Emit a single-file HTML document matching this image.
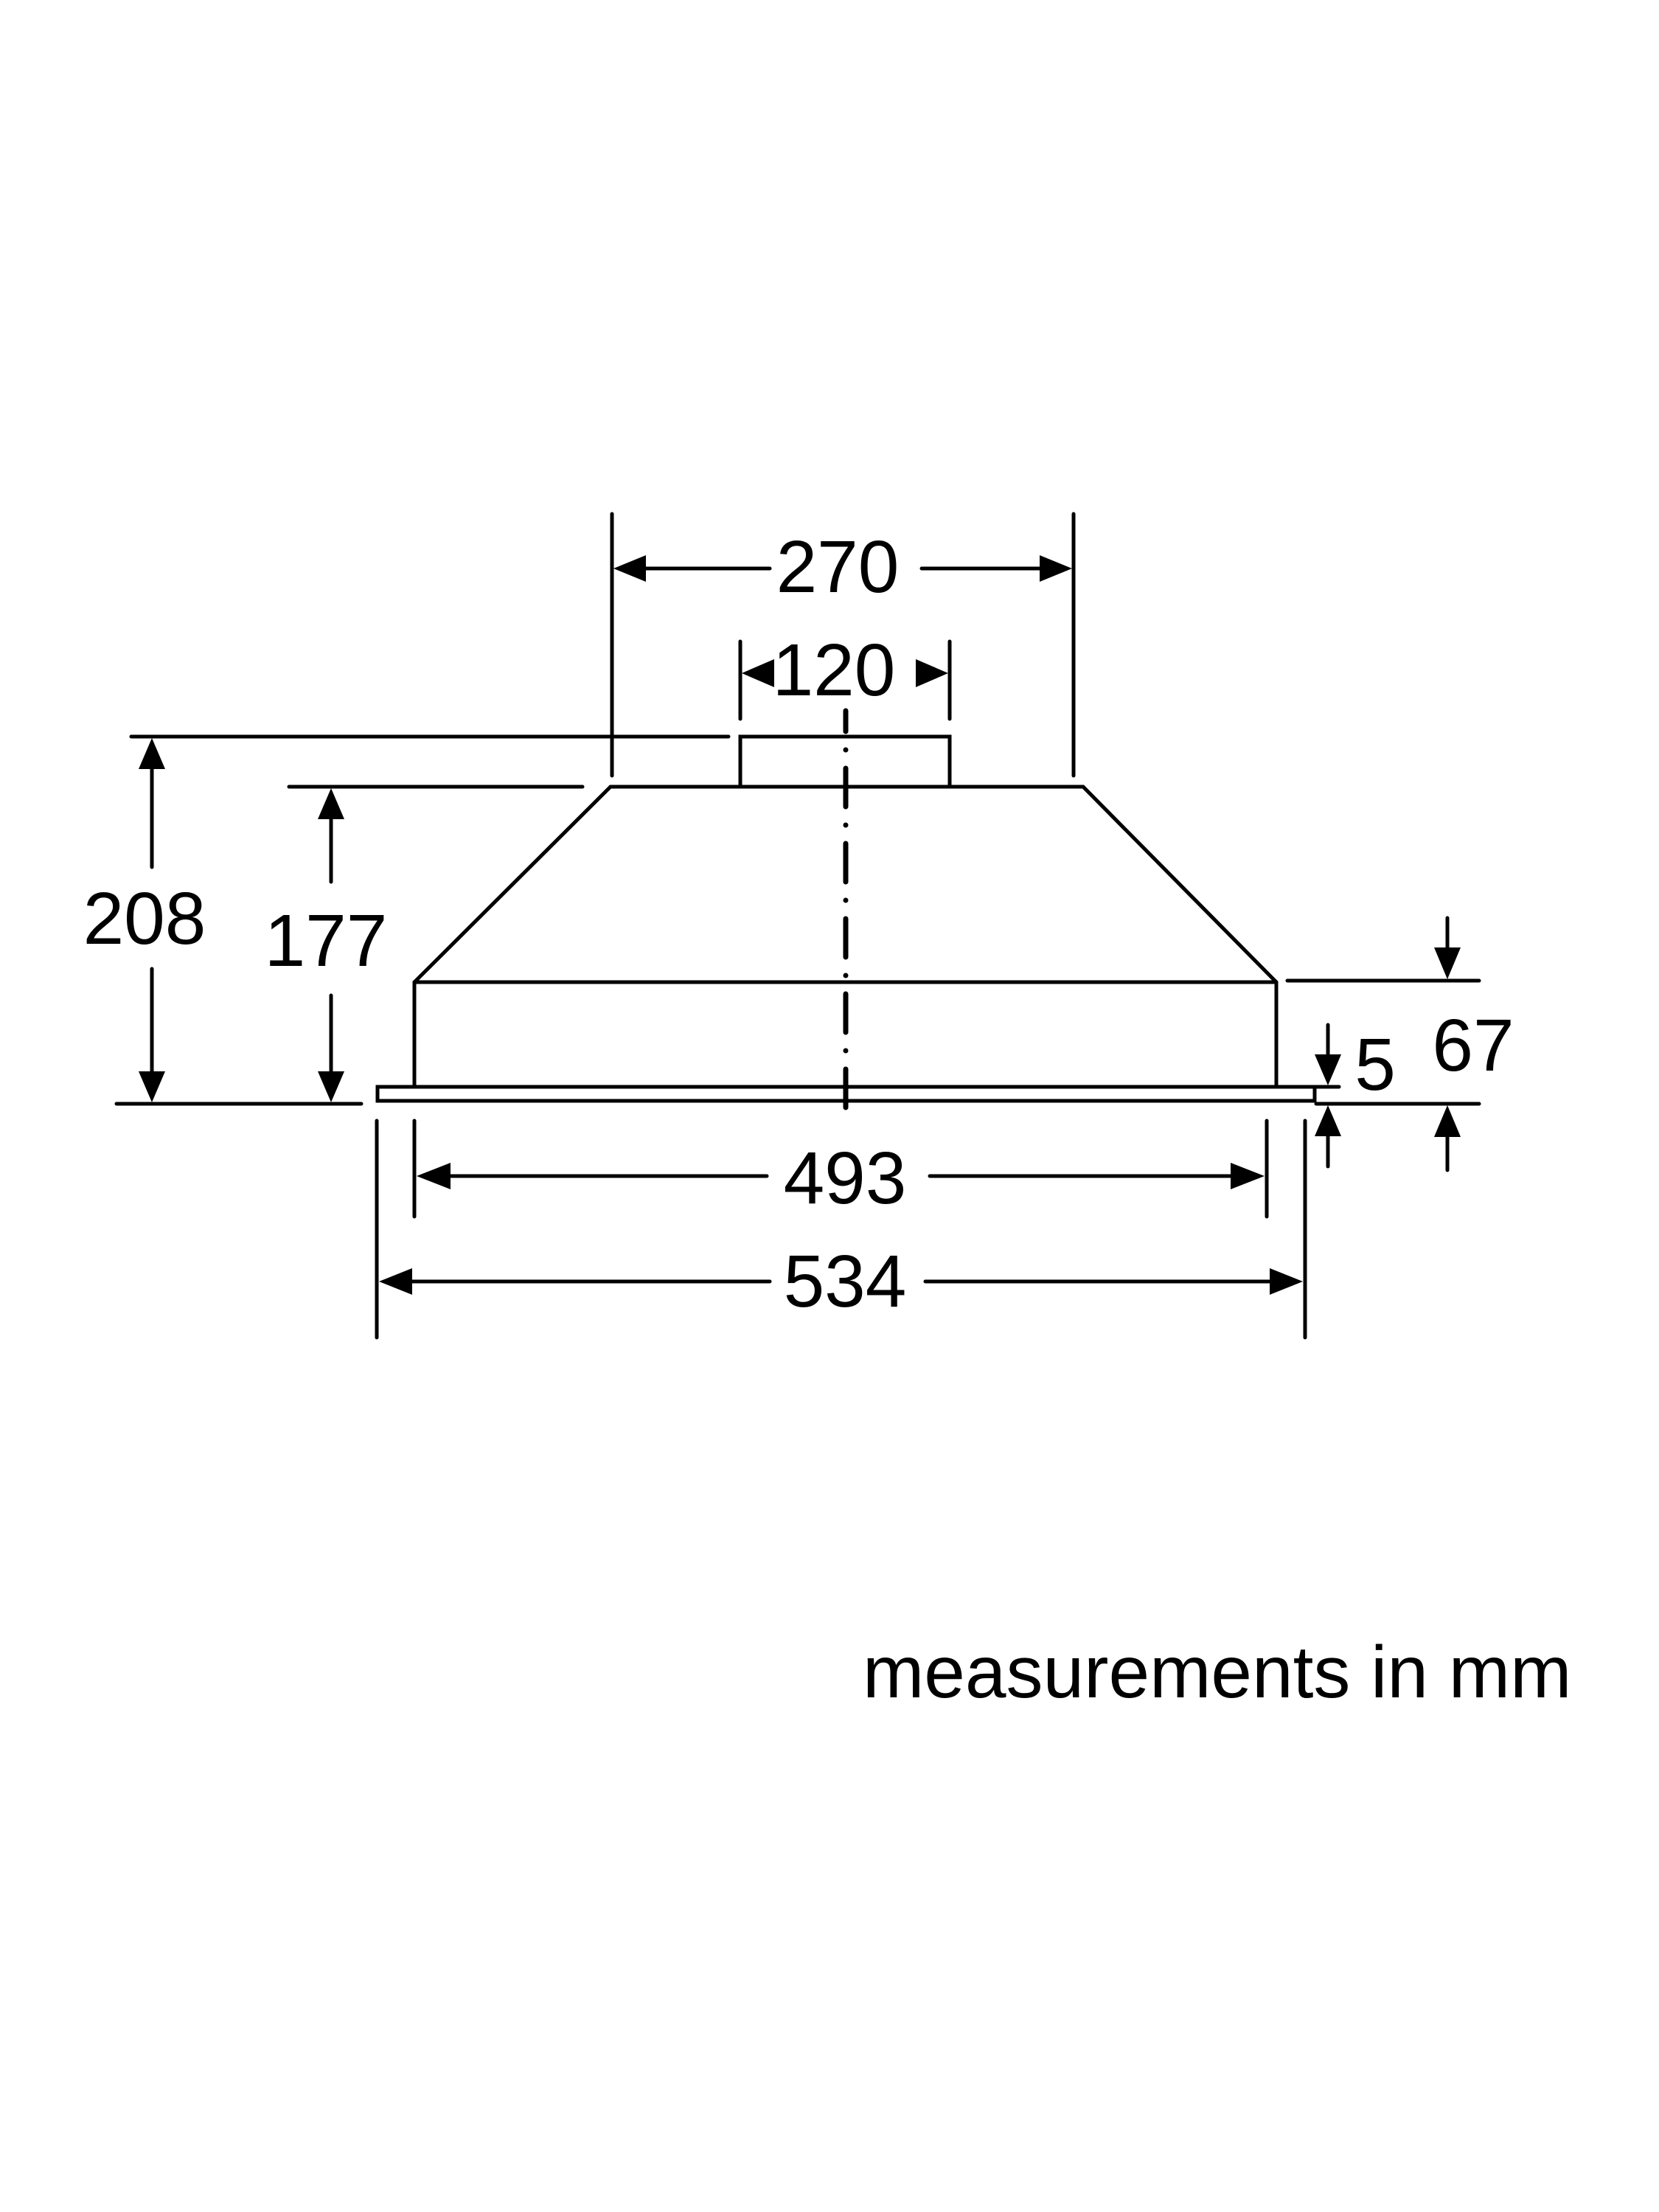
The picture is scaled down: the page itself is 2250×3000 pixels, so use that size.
<!DOCTYPE html>
<html><head><meta charset="utf-8"><style>
html,body{margin:0;padding:0;background:#fff;}
svg{display:block;}
text{font-family:"Liberation Sans",sans-serif;fill:#000;}
</style></head><body>
<svg width="2250" height="3000" viewBox="0 0 2250 3000" xmlns="http://www.w3.org/2000/svg">
<rect width="2250" height="3000" fill="#fff"/>
<g stroke="#000" stroke-width="5" fill="none" stroke-linecap="round">
  <rect x="1004" y="999" width="284" height="68"/>
  <polyline points="828,1067 1469,1067 1731,1332 1731,1474"/>
  <polyline points="828,1067 562,1332 562,1474"/>
  <line x1="562" y1="1332" x2="1731" y2="1332"/>
  <rect x="512" y="1474" width="1271" height="19"/>
  <line x1="830" y1="697" x2="830" y2="1052"/>
  <line x1="1456" y1="697" x2="1456" y2="1052"/>
  <line x1="860" y1="771" x2="1044" y2="771"/>
  <line x1="1250" y1="771" x2="1420" y2="771"/>
  <line x1="1004" y1="870" x2="1004" y2="975"/>
  <line x1="1288" y1="870" x2="1288" y2="975"/>
  <line x1="178" y1="999" x2="988" y2="999"/>
  <line x1="158" y1="1497" x2="490" y2="1497"/>
  <line x1="206" y1="1030" x2="206" y2="1176"/>
  <line x1="206" y1="1314" x2="206" y2="1465"/>
  <line x1="392" y1="1067" x2="790" y2="1067"/>
  <line x1="449" y1="1100" x2="449" y2="1196"/>
  <line x1="449" y1="1350" x2="449" y2="1465"/>
  <line x1="1746" y1="1330" x2="2006" y2="1330"/>
  <line x1="1785" y1="1497" x2="2006" y2="1497"/>
  <line x1="1963" y1="1245" x2="1963" y2="1300"/>
  <line x1="1963" y1="1530" x2="1963" y2="1587"/>
  <line x1="1785" y1="1474" x2="1816" y2="1474"/>
  <line x1="1801" y1="1390" x2="1801" y2="1445"/>
  <line x1="1801" y1="1530" x2="1801" y2="1582"/>
  <line x1="562" y1="1520" x2="562" y2="1650"/>
  <line x1="1718" y1="1520" x2="1718" y2="1650"/>
  <line x1="600" y1="1595" x2="1040" y2="1595"/>
  <line x1="1261" y1="1595" x2="1680" y2="1595"/>
  <line x1="511" y1="1520" x2="511" y2="1814"/>
  <line x1="1770" y1="1520" x2="1770" y2="1814"/>
  <line x1="550" y1="1738" x2="1044" y2="1738"/>
  <line x1="1255" y1="1738" x2="1735" y2="1738"/>
</g>
<line x1="1147" y1="964" x2="1147" y2="1527" stroke="#000" stroke-width="7" stroke-linecap="round" stroke-dasharray="52 25 0 25" stroke-dashoffset="24"/>
<g fill="#000">
  <polygon points="832,771 876,753 876,789"/>
  <polygon points="1454,771 1410,753 1410,789"/>
  <polygon points="1006,913 1050,894 1050,932"/>
  <polygon points="1286,913 1242,894 1242,932"/>
  <polygon points="206,1001 188,1043 224,1043"/>
  <polygon points="206,1495 188,1453 224,1453"/>
  <polygon points="449,1069 431,1111 467,1111"/>
  <polygon points="449,1495 431,1453 467,1453"/>
  <polygon points="1963,1328 1945,1285 1981,1285"/>
  <polygon points="1963,1499 1945,1542 1981,1542"/>
  <polygon points="1801,1472 1783,1430 1819,1430"/>
  <polygon points="1801,1499 1783,1541 1819,1541"/>
  <polygon points="565,1595 611,1577 611,1613"/>
  <polygon points="1715,1595 1669,1577 1669,1613"/>
  <polygon points="514,1738 559,1720 559,1756"/>
  <polygon points="1767,1738 1722,1720 1722,1756"/>
</g>
<g font-size="100" text-anchor="middle">
  <text x="1136" y="803">270</text>
  <text x="1131" y="943">120</text>
  <text x="196" y="1280">208</text>
  <text x="442" y="1310">177</text>
  <text x="1998" y="1452">67</text>
  <text x="1865" y="1478">5</text>
  <text x="1146" y="1632">493</text>
  <text x="1146" y="1772">534</text>
</g>
<text x="1170" y="2302" font-size="100">measurements in mm</text>
</svg>
</body></html>
